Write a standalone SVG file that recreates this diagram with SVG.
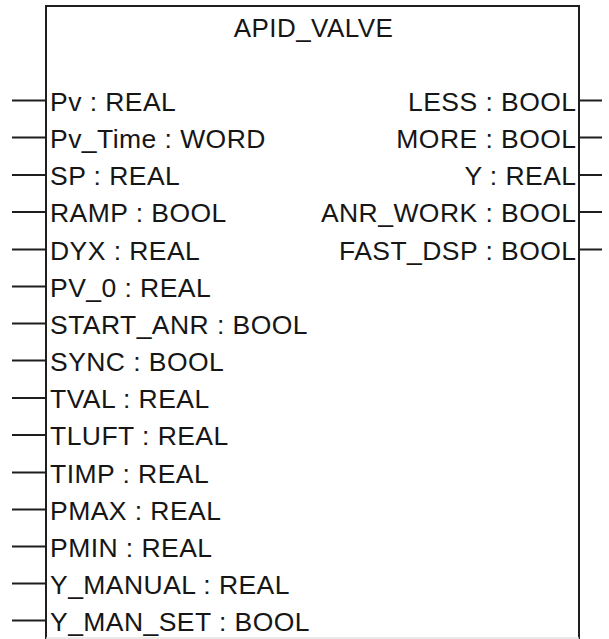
<svg xmlns="http://www.w3.org/2000/svg" width="609" height="639" viewBox="0 0 609 639">
  <style>
    .box { fill: #ffffff; stroke: #1e1e1e; stroke-width: 2; }
    .pin { stroke: #1e1e1e; stroke-width: 2; fill: none; }
    .lbl { font-family: "Liberation Sans", Arial, sans-serif; font-size: 26.5px; letter-spacing: 0.45px; fill: #161616; }
    .in { text-anchor: start; }
    .out { text-anchor: end; }
    .title { text-anchor: middle; font-size: 26px; }
  </style>
  <rect x="0" y="0" width="609" height="639" fill="#ffffff"/>

  <!-- function block body -->
  <g id="block">
    <path class="box" d="M46 639 V6 H579 V639"/>
    <line x1="46" y1="638" x2="579" y2="638" stroke="#e2e2e2" stroke-width="1.5"/>
    <text class="lbl title" x="313.5" y="37">APID_VALVE</text>
  </g>

  <!-- pin stubs -->
  <g id="connectors">
    <path class="pin" d="M12 100.5 H46 M12 137.5 H46 M12 175 H46 M12 212 H46 M12 249.5 H46 M12 286.5 H46 M12 323.5 H46 M12 360.5 H46 M12 398 H46 M12 435 H46 M12 472.5 H46 M12 509.5 H46 M12 546.5 H46 M12 583.5 H46 M12 620.5 H46"/>
    <path class="pin" d="M579 100.5 H602 M579 137.5 H602 M579 175 H602 M579 212 H602 M579 249.5 H602"/>
  </g>

  <!-- inputs -->
  <g id="inputs">
    <text class="lbl in" x="50" y="110.5">Pv : REAL</text>
    <text class="lbl in" x="50" y="147.5">Pv_Time : WORD</text>
    <text class="lbl in" x="50" y="185">SP : REAL</text>
    <text class="lbl in" x="50" y="222">RAMP : BOOL</text>
    <text class="lbl in" x="50" y="259.5">DYX : REAL</text>
    <text class="lbl in" x="50" y="296.5">PV_0 : REAL</text>
    <text class="lbl in" x="50" y="333.5">START_ANR : BOOL</text>
    <text class="lbl in" x="50" y="370.5">SYNC : BOOL</text>
    <text class="lbl in" x="50" y="408">TVAL : REAL</text>
    <text class="lbl in" x="50" y="445">TLUFT : REAL</text>
    <text class="lbl in" x="50" y="482.5">TIMP : REAL</text>
    <text class="lbl in" x="50" y="519.5">PMAX : REAL</text>
    <text class="lbl in" x="50" y="556.5">PMIN : REAL</text>
    <text class="lbl in" x="50" y="593.5">Y_MANUAL : REAL</text>
    <text class="lbl in" x="50" y="630.5">Y_MAN_SET : BOOL</text>
  </g>

  <!-- outputs -->
  <g id="outputs">
    <text class="lbl out" x="576.5" y="110.5">LESS : BOOL</text>
    <text class="lbl out" x="576.5" y="147.5">MORE : BOOL</text>
    <text class="lbl out" x="576.5" y="185">Y : REAL</text>
    <text class="lbl out" x="576.5" y="222">ANR_WORK : BOOL</text>
    <text class="lbl out" x="576.5" y="259.5">FAST_DSP : BOOL</text>
  </g>
</svg>
